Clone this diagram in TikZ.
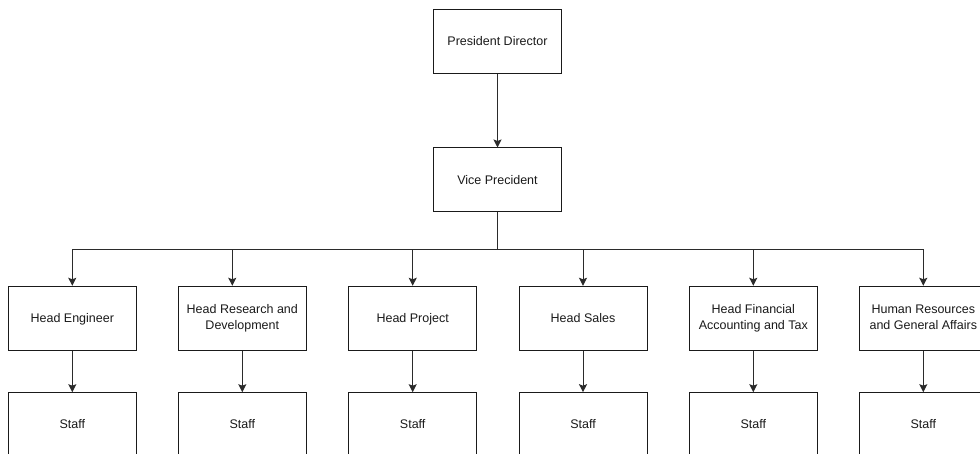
\documentclass[tikz,border=0pt]{standalone}
\usepackage{fontspec}
\setmainfont{Liberation Sans}
\usetikzlibrary{arrows.meta}
\definecolor{ink}{HTML}{1A1A1A}
\definecolor{wire}{HTML}{2B2B2B}
\newcommand\boxstrut{\rule[-2.7pt]{0pt}{13.7pt}}
\tikzset{
  box/.style={draw=ink, line width=1pt, fill=white, minimum width=128pt, minimum height=64pt,
    inner sep=2pt, align=center, text=ink, font=\fontsize{12.5}{15.7}\selectfont,
    execute at begin node=\boxstrut, execute at end node=\boxstrut},
  arr/.style={draw=wire, line width=1pt, -{Stealth[length=8pt,width=8pt,inset=1.5pt]}},
  wireline/.style={draw=wire, line width=1pt}
}
\begin{document}
\begin{tikzpicture}[x=1pt,y=-1pt]
\useasboundingbox[fill=white] (0,0) rectangle (980,454);
\node[box] (pd) at (497.5,41.3) {President Director};
\node[box] (vp) at (497.5,180) {Vice Precident};
\coordinate (bus) at (497.5,249.3);
\node[box] (he)  at (72.3,318.3)  {Head Engineer};
\node[box] (hrd) at (242.3,318.3) {Head Research and\\Development};
\node[box] (hp)  at (412.7,318.3) {Head Project};
\node[box] (hs)  at (583,318.3)   {Head Sales};
\node[box] (hf)  at (753.3,318.3) {Head Financial\\Accounting and Tax};
\node[box] (hr)  at (923.3,318.3) {Human Resources\\and General Affairs};
\foreach \n/\x in {he/72.3,hrd/242.3,hp/412.7,hs/583,hf/753.3,hr/923.3}{
  \node[box] (s\n) at (\x,424.7) {Staff};
  \draw[arr] (\n.south) -- (s\n.north);
}
\draw[arr] (pd.south) -- (vp.north);
\draw[wireline] (vp.south) -- (bus);
\draw[arr] (bus) -| (he.north);
\draw[arr] (bus) -| ([xshift=-10pt]hrd.north);
\draw[arr] (bus) -| (hp.north);
\draw[arr] (bus) -| (hs.north);
\draw[arr] (bus) -| (hf.north);
\draw[arr] (bus) -| (hr.north);
\end{tikzpicture}
\end{document}
